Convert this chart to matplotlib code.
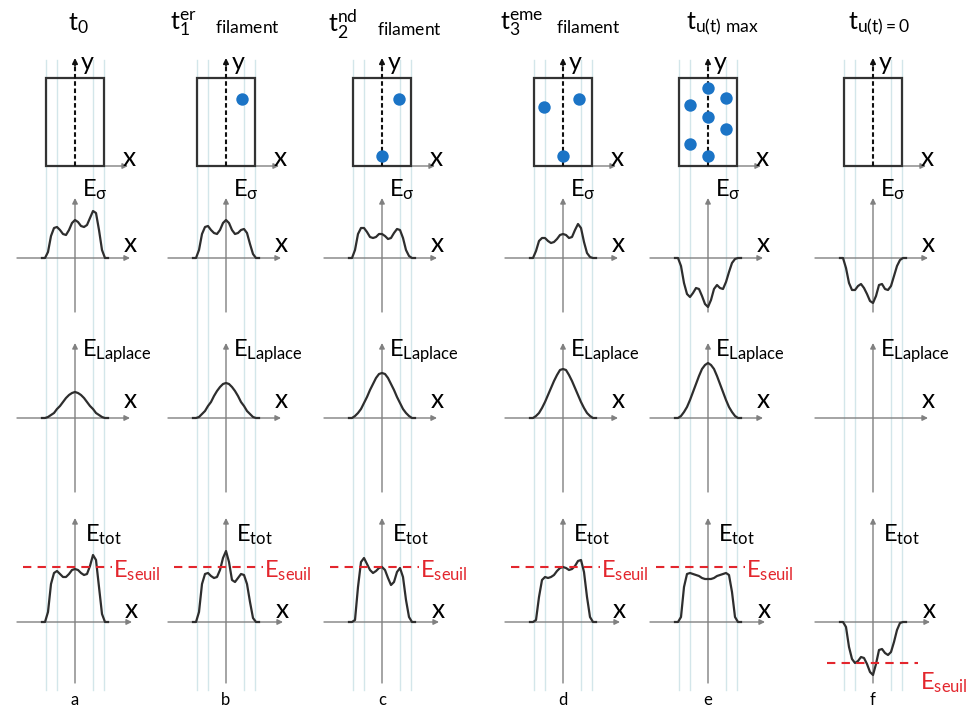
import matplotlib.pyplot as plt
from matplotlib.patches import Rectangle

plt.rcParams['font.family'] = ['Lato', 'DejaVu Sans']
plt.rcParams['mathtext.fontset'] = 'custom'
plt.rcParams['mathtext.rm'] = 'Lato'
plt.rcParams['mathtext.it'] = 'Lato:italic'
plt.rcParams['mathtext.bf'] = 'Lato:bold'
plt.rcParams['mathtext.fallback'] = 'stixsans'

# ── Data (drawing units ~ pixels, heights measured up from each baseline) ──
letters = ['a', 'b', 'c', 'd', 'e', 'f']
titles = [r'$\mathrm{t_0}$',
          r'$\mathrm{t_1^{er}}\ \ \ {}_{\mathrm{filament}}$',
          r'$\mathrm{t_2^{nd}}\ \ \ {}_{\mathrm{filament}}$',
          r'$\mathrm{t_3^{eme}}\ \ {}_{\mathrm{filament}}$',
          r'$\mathrm{t_{u(t)\ max}}$',
          r'$\mathrm{t_{u(t)=0}}$']
col_x = [75, 226, 382, 563, 708, 873]

# filament positions inside the sample (offset from axis, y)
dots_dx = [[], [16], [17, 0], [-19, 16, 0], [0, -18, 18, 0, 18, -18, 0], []]
dots_y = [[], [99], [99, 156], [107, 99, 156], [88, 105, 98, 117, 129, 144, 156], []]

offs = [-33, -30, -27, -24, -21, -18, -15, -12, -9, -6, -3, 0,
        3, 6, 9, 12, 15, 18, 21, 24, 27, 30, 33]

esig_a = [0, 0, 6, 22, 30, 31, 28, 24, 23, 28, 35, 38, 36, 32, 31, 33, 40, 47, 45, 28, 8, 0, 0]
esig_b = [0, 0, 8, 24, 31, 32, 28, 25, 24, 28, 35, 38, 35, 28, 24, 25, 28, 29, 25, 14, 4, 0, 0]
esig_c = [0, 0, 8, 24, 30, 30, 26, 21, 20, 21, 24, 24, 22, 19, 20, 25, 29, 28, 20, 8, 2, 0, 0]
esig_d = [0, 0, 7, 17, 20, 20, 17, 15, 16, 19, 23, 24, 23, 20, 21, 28, 34, 30, 16, 5, 1, 0, 0]
esig_e = [0, 0, -8, -25, -36, -39, -35, -30, -31, -38, -46, -49, -42, -31, -27, -30, -31, -24, -14, -5, -1, 0, 0]
esig_f = [0, 0, -10, -25, -32, -32, -28, -26, -30, -36, -43, -45, -38, -27, -26, -31, -32, -28, -18, -8, -2, 0, 0]

lap_a = [0, 0, 1, 3, 5, 9, 12, 16, 20, 23, 25, 26, 25, 23, 20, 16, 12, 9, 5, 3, 1, 0, 0]
lap_b = [0, 0, 1, 4, 7, 12, 16, 22, 27, 31, 34, 35, 34, 31, 27, 22, 16, 12, 7, 4, 1, 0, 0]
lap_c = [0, 0, 2, 5, 9, 15, 21, 28, 34, 40, 44, 45, 44, 40, 34, 28, 21, 15, 9, 5, 2, 0, 0]
lap_d = [0, 0, 2, 5, 10, 16, 23, 30, 37, 43, 48, 49, 48, 43, 37, 30, 23, 16, 10, 5, 2, 0, 0]
lap_e = [0, 0, 2, 6, 11, 18, 26, 34, 42, 49, 53, 55, 53, 49, 42, 34, 26, 18, 11, 6, 2, 0, 0]
lap_f = None

etot_a = [0, 0, 10, 38, 49, 51, 48, 45, 45, 48, 52, 53, 52, 49, 47, 48, 56, 67, 62, 35, 8, 0, 0]
etot_b = [0, 0, 10, 38, 48, 49, 46, 44, 45, 52, 64, 71, 60, 42, 40, 44, 48, 47, 38, 20, 4, 0, 0]
etot_c = [0, 0, 2, 35, 60, 64, 58, 52, 49, 51, 54, 55, 52, 44, 37, 40, 50, 54, 45, 22, 5, 0, 0]
etot_d = [0, 0, 2, 25, 42, 45, 44, 45, 47, 51, 54, 55, 54, 52, 53, 56, 61, 62, 50, 25, 5, 0, 0]
etot_e = [0, 0, 5, 35, 48, 49, 48, 47, 46, 44, 43, 43, 43, 44, 46, 47, 48, 49, 47, 30, 5, 0, 0]
etot_f = [0, 0, -5, -25, -37, -41, -39, -35, -36, -42, -50, -53, -42, -28, -27, -31, -33, -30, -20, -8, -1, 0, 0]

seuil = [55, 55, 55, 55, 55, -41]

esig_all = [esig_a, esig_b, esig_c, esig_d, esig_e, esig_f]
lap_all = [lap_a, lap_b, lap_c, lap_d, lap_e, lap_f]
etot_all = [etot_a, etot_b, etot_c, etot_d, etot_e, etot_f]

# ── Style ──
AX_C = '#808080'
CURVE_C = '#2e2e2e'
GUIDE_C = '#d3e6ea'
RED = '#e3262d'
BLUE = '#1b74c6'
guide_offs = [-29, -18, 18, 29]
Y_SIG, Y_LAP, Y_TOT = 258, 418, 622
FS_E, FS_X = 17, 19

fig = plt.figure(figsize=(9.69, 7.15), dpi=100)
ax = fig.add_axes([0, 0, 1, 1])
ax.set_xlim(0, 969)
ax.set_ylim(715, 0)
ax.axis('off')


def arrow(x0, y0, x1, y1, color=AX_C, lw=1.0):
    ax.annotate('', xy=(x1, y1), xytext=(x0, y0),
                arrowprops=dict(arrowstyle='-|>', color=color, lw=lw,
                                mutation_scale=8, shrinkA=0, shrinkB=0))


title_dx = [-7, -56, -54, -63, -22, -25]

for i, cx in enumerate(col_x):
    # faint guide lines
    for o in guide_offs:
        ax.plot([cx + o, cx + o], [60, 690], color=GUIDE_C, lw=1, zorder=0)

    ax.text(cx + title_dx[i], 24, titles[i], fontsize=18, ha='left', va='center')

    # sample box with filaments
    arrow(cx, 166, cx + 53, 166)
    ax.add_patch(Rectangle((cx - 29, 78), 58, 88, fill=False, ec='#333333', lw=1.6, zorder=3))
    ax.plot([cx, cx], [166, 64], color='#111111', lw=1.5, dashes=(2.2, 1.3), zorder=4)
    arrow(cx, 66, cx, 58, color='#111111', lw=1.2)
    ax.scatter([cx + d for d in dots_dx[i]], dots_y[i], s=80, color=BLUE, zorder=5, lw=0)
    ax.text(cx + 5, 64, r'$\mathrm{y}$', fontsize=18, ha='left', va='center')
    ax.text(cx + 54, 159, r'$\mathrm{x}$', fontsize=FS_X, ha='center', va='center')

    # E_sigma
    arrow(cx, 312, cx, 198)
    arrow(cx - 58, Y_SIG, cx + 55, Y_SIG)
    ax.plot([cx + o for o in offs], [Y_SIG - v for v in esig_all[i]],
            color=CURVE_C, lw=1.6, zorder=3)
    ax.text(cx + 7, 190, r'$\mathrm{E_{σ}}$', fontsize=FS_E, ha='left', va='center')
    ax.text(cx + 55, 244, r'$\mathrm{x}$', fontsize=FS_X, ha='center', va='center')

    # E_Laplace
    arrow(cx, 492, cx, 343)
    arrow(cx - 58, Y_LAP, cx + 55, Y_LAP)
    if lap_all[i] is not None:
        ax.plot([cx + o for o in offs], [Y_LAP - v for v in lap_all[i]],
                color=CURVE_C, lw=1.6, zorder=3)
    ax.text(cx + 7, 351, r'$\mathrm{E_{Laplace}}$', fontsize=FS_E, ha='left', va='center')
    ax.text(cx + 55, 401, r'$\mathrm{x}$', fontsize=FS_X, ha='center', va='center')

    # E_tot
    arrow(cx, 683, cx, 518)
    arrow(cx - 58, Y_TOT, cx + 57, Y_TOT)
    ax.plot([cx + o for o in offs], [Y_TOT - v for v in etot_all[i]],
            color=CURVE_C, lw=1.6, zorder=3)
    ax.text(cx + 10, 535, r'$\mathrm{E_{tot}}$', fontsize=FS_E, ha='left', va='center')
    ax.text(cx + 56, 610, r'$\mathrm{x}$', fontsize=FS_X, ha='center', va='center')

    ys = Y_TOT - seuil[i]
    if seuil[i] > 0:
        ax.plot([cx - 52, cx + 37], [ys, ys], color=RED, lw=1.5, dashes=(4, 3), zorder=4)
        ax.text(cx + 38, ys + 4, r'$\mathrm{E_{seuil}}$', fontsize=FS_E, color=RED,
                ha='left', va='center')
    else:
        ax.plot([cx - 46, cx + 45], [ys, ys], color=RED, lw=1.5, dashes=(4, 3), zorder=4)
        ax.text(cx + 47, ys + 20, r'$\mathrm{E_{seuil}}$', fontsize=FS_E, color=RED,
                ha='left', va='center')

    ax.text(cx, 700, letters[i], fontsize=12, ha='center', va='center')

plt.savefig('out.png', dpi=100)
